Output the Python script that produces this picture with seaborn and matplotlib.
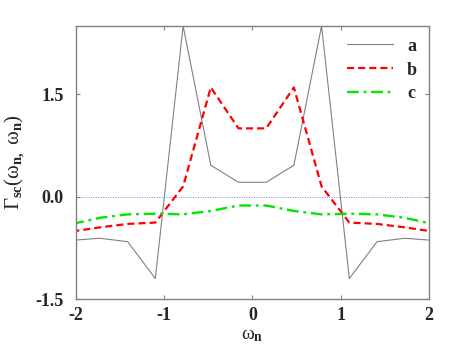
import matplotlib
matplotlib.use("Agg")
import matplotlib.pyplot as plt
import seaborn as sns
import pandas as pd

# Matsubara frequencies and vertex values
wn = [-2.042, -1.728, -1.414, -1.100, -0.785, -0.471, -0.157,
      0.157, 0.471, 0.785, 1.100, 1.414, 1.728, 2.042]
gamma_a = [-0.64, -0.61, -0.66, -1.20, 2.50, 0.46, 0.21,
           0.21, 0.46, 2.50, -1.20, -0.66, -0.61, -0.64]
gamma_b = [-0.51, -0.45, -0.40, -0.38, 0.15, 1.60, 1.00,
           1.00, 1.60, 0.15, -0.38, -0.40, -0.45, -0.51]
gamma_c = [-0.40, -0.31, -0.26, -0.25, -0.26, -0.21, -0.13,
           -0.13, -0.21, -0.26, -0.25, -0.26, -0.31, -0.40]
labels = ["a", "b", "c"]
x_ticks = [-2, -1, 0, 1, 2]
y_ticks = [-1.5, 0.0, 1.5]

sns.set_theme(style="white")
plt.rcParams['font.family'] = ['Liberation Serif', 'DejaVu Serif']
plt.rcParams['mathtext.fontset'] = 'custom'
plt.rcParams['mathtext.rm'] = 'Liberation Serif'
plt.rcParams['mathtext.it'] = 'Liberation Serif:italic'
plt.rcParams['mathtext.bf'] = 'Liberation Serif:bold'

fig = plt.figure(figsize=(4.67, 3.59), dpi=100)
ax = fig.add_axes([0.1627, 0.1671, 0.918 - 0.1627, 0.9276 - 0.1671])

styles = {
    "a": dict(color="#808080", lw=0.8, dashes=None),
    "b": dict(color="#ff0000", lw=1.6, dashes=(3.2, 1.8)),
    "c": dict(color="#00e600", lw=1.7, dashes=(5, 2, 1.2, 2)),
}

for lab, vals in zip(labels, [gamma_a, gamma_b, gamma_c]):
    df = pd.DataFrame({"wn": wn, "gamma": vals})
    st = styles[lab]
    sns.lineplot(data=df, x="wn", y="gamma", ax=ax, color=st["color"],
                 linewidth=st["lw"], estimator=None, sort=False, label=lab)
    if st["dashes"] is not None:
        ax.lines[-1].set_dashes(st["dashes"])

ax.axhline(0.0, color="#8080ee", lw=0.7, ls=(0, (1, 1.5)), zorder=0)

ax.set_xlim(-2, 2)
ax.set_ylim(-1.5, 2.5)
ax.set_xticks(x_ticks)
ax.set_yticks(y_ticks)
ax.set_xticklabels([str(t) for t in x_ticks], fontweight="bold", fontsize=13)
ax.set_yticklabels([f"{t:.1f}" for t in y_ticks], fontweight="bold", fontsize=13)
ax.tick_params(axis="y", pad=9)
ax.tick_params(axis="x", pad=6)
ax.tick_params(direction="in", length=3, width=0.8, color="#808080",
               top=True, right=True, bottom=True, left=True)

for sp in ax.spines.values():
    sp.set_color("#808080")
    sp.set_linewidth(1.0)

ax.set_xlabel(r"ω$_\mathbf{n}$", fontsize=14, labelpad=2)
ax.set_ylabel(r"Γ$_\mathbf{sc}$(ω$_\mathbf{n,}$ ω$_\mathbf{n}$)", fontsize=15, labelpad=6)

leg = ax.legend(loc="upper right", frameon=False, fontsize=13, handlelength=2.5,
                labelspacing=0.38, borderaxespad=0.35, handletextpad=0.8,
                borderpad=0.3)
for t in leg.get_texts():
    t.set_fontweight("bold")

plt.savefig("out.png", dpi=100)
